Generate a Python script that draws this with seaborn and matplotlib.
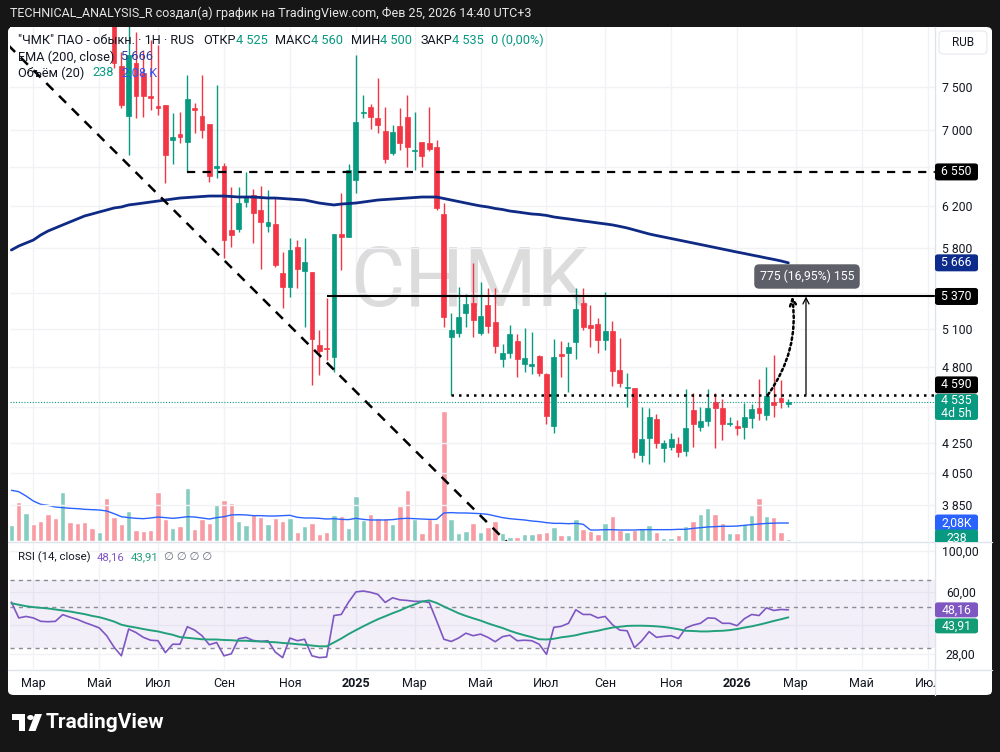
import numpy as np
import pandas as pd
import matplotlib
matplotlib.use("Agg")
import matplotlib.pyplot as plt
import seaborn as sns
from matplotlib.patches import Rectangle, FancyBboxPatch, Circle, Polygon
from matplotlib.ticker import FixedLocator, NullLocator, NullFormatter
from matplotlib.lines import Line2D

sns.set_theme(style="white")
plt.rcParams['font.family'] = ['Roboto', 'DejaVu Sans']

# weekly bars (1Н), 12.02.2024 .. 23.02.2026
dates = pd.date_range("2024-02-12", periods=107, freq="7D")

opens = [10050, 10300, 9950, 10200, 9850, 9600, 9300, 9100, 9550, 9250, 9050, 8900, 8750, 8850,
         8550, 7760, 7160, 7790, 7670, 7395, 7275, 7290, 6890, 6960, 6870, 7255, 7160, 7070, 6590, 6610,
         5970, 5980, 6245, 6315, 6165, 6010, 6030, 5575, 5450, 5810, 5595, 5585, 4970, 4945, 4875, 5930,
         5905, 6465, 7195, 7265, 7140, 6990, 6750, 7050, 7150, 6770, 6870, 6860, 6815, 6125, 5035, 5065,
         5230, 5315, 5065, 5300, 5155, 4860, 4905, 5000, 4820, 4805, 4885, 4745, 4370, 4900, 4905, 4995,
         5315, 5130, 5140, 5010, 5080, 4775, 4640, 4640, 4170, 4285, 4415, 4220, 4225, 4245, 4195, 4480,
         4360, 4405, 4540, 4495, 4380, 4370, 4360, 4425, 4495, 4445, 4540, 4570, 4525]
highs = [10400, 10450, 10350, 10250, 9950, 9700, 9400, 9700, 9600, 9350, 9150, 8950, 8950, 8900,
         8600, 7930, 8350, 8190, 7955, 8085, 8020, 7290, 7195, 7205, 7645, 7310, 7645, 7070, 7525, 6645,
         6395, 6395, 6550, 6375, 6405, 6365, 6285, 5765, 5895, 5875, 5895, 5585, 5090, 5355, 5930, 6335,
         6635, 7895, 7405, 7300, 7610, 7265, 7060, 7255, 7405, 7205, 6870, 7265, 6890, 6235, 5230, 5450,
         5390, 5665, 5495, 5445, 5445, 4980, 5130, 5060, 5105, 5075, 4890, 4755, 5020, 5000, 4995, 5445,
         5445, 5300, 5190, 5410, 5165, 5025, 4755, 4640, 4500, 4495, 4450, 4270, 4320, 4290, 4635, 4605,
         4500, 4635, 4605, 4560, 4430, 4410, 4530, 4525, 4710, 4800, 4890, 4700, 4560]
lows = [9900, 9850, 9800, 9750, 9500, 9200, 9000, 9050, 9150, 8950, 8800, 8650, 8700, 8450,
        7730, 7255, 6730, 7140, 7150, 7230, 7175, 6435, 6635, 6860, 6550, 6970, 6915, 6445, 6485, 5710,
        5810, 5950, 6195, 5850, 5610, 5950, 5630, 5275, 5365, 5445, 5115, 4665, 4740, 4855, 4760, 5600,
        5905, 6335, 7140, 7015, 6970, 6645, 6730, 6785, 6600, 6570, 6600, 6770, 6165, 5115, 4590, 5035,
        5115, 5035, 5050, 5065, 4905, 4800, 4870, 4725, 4760, 4745, 4730, 4380, 4320, 4725, 4610, 4860,
        5090, 4955, 4905, 4930, 4655, 4650, 4500, 4150, 4125, 4110, 4220, 4125, 4205, 4160, 4165, 4225,
        4335, 4370, 4220, 4270, 4370, 4305, 4280, 4355, 4410, 4410, 4430, 4495, 4500]
closes = [10300, 9950, 10200, 9850, 9600, 9300, 9100, 9550, 9250, 9050, 8900, 8750, 8850, 8550,
          7790, 7290, 7895, 7395, 7395, 7370, 7255, 6730, 6925, 6925, 7360, 7230, 7005, 6505, 6610, 5875,
          5925, 6235, 6295, 6135, 6050, 6050, 5645, 5450, 5785, 5610, 5675, 5020, 4925, 4940, 5930, 5905,
          6570, 7095, 7205, 7150, 7060, 6685, 6980, 6860, 6815, 6785, 6720, 6795, 6185, 5195, 5090, 5195,
          5305, 5175, 5205, 5125, 4960, 4905, 5060, 4860, 4870, 4820, 4755, 4435, 4875, 4885, 4955, 5265,
          5115, 5105, 5010, 5080, 4770, 4680, 4650, 4190, 4280, 4430, 4250, 4250, 4280, 4190, 4355, 4380,
          4405, 4495, 4495, 4380, 4390, 4355, 4430, 4490, 4460, 4580, 4515, 4540, 4535]

# volume, thousands of lots, and its 20-bar average
volume_k = [1.82, 4.51, 3.24, 1.97, 2.31, 3.12, 2.66, 5.66, 2.20, 2.08,
            2.20, 1.50, 1.04, 4.97, 2.77, 1.97, 3.47, 1.27, 1.16, 1.27,
            5.66, 2.54, 1.50, 1.73, 6.13, 1.39, 2.54, 2.08, 4.28, 4.74,
            4.39, 2.31, 1.85, 3.12, 2.77, 1.97, 2.66, 2.31, 2.66, 1.04,
            1.73, 2.08, 0.81, 1.04, 3.01, 2.89, 1.50, 5.20, 2.43, 3.12,
            2.66, 2.66, 1.97, 4.05, 5.90, 2.54, 0.92, 2.54, 2.08, 15.03,
            2.54, 0.92, 1.16, 2.08, 1.04, 1.62, 2.31, 0.92, 0.46, 0.46,
            0.81, 0.81, 0.92, 1.04, 1.62, 0.69, 0.69, 2.54, 1.39, 1.16,
            0.81, 2.08, 2.89, 1.27, 1.04, 1.27, 1.50, 1.85, 1.04, 0.35,
            0.35, 0.69, 1.73, 2.31, 3.12, 3.82, 3.12, 2.08, 0.92, 0.92,
            1.97, 3.01, 4.97, 2.89, 2.77, 1.04, 0.238]
vol_ma_k = [5.86, 5.70, 5.20, 4.62, 4.24, 4.12, 3.93, 3.85, 3.78, 3.74,
            3.66, 3.62, 3.58, 3.47, 3.16, 2.81, 2.70, 2.62, 2.58, 2.66,
            2.77, 2.70, 2.62, 2.70, 2.81, 2.77, 2.66, 2.54, 2.70, 2.81,
            3.01, 3.04, 3.01, 2.93, 2.93, 2.89, 2.89, 2.93, 2.97, 2.74,
            2.66, 2.66, 2.62, 2.54, 2.58, 2.50, 2.47, 2.62, 2.50, 2.43,
            2.43, 2.43, 2.47, 2.58, 2.62, 2.58, 2.54, 2.50, 2.50, 3.24,
            3.28, 3.24, 3.24, 3.20, 3.16, 3.08, 2.89, 2.70, 2.58, 2.50,
            2.43, 2.31, 2.24, 2.12, 2.04, 2.04, 2.00, 2.04, 1.93, 1.27,
            1.27, 1.31, 1.31, 1.27, 1.27, 1.27, 1.31, 1.31, 1.31, 1.31,
            1.31, 1.35, 1.35, 1.46, 1.54, 1.62, 1.66, 1.70, 1.70, 1.73,
            1.81, 1.89, 1.97, 2.03, 2.06, 2.08, 2.08]

ema200 = [5783, 5820, 5848, 5876, 5923, 5961, 5990, 6019, 6048, 6077,
          6106, 6125, 6145, 6164, 6184, 6194, 6214, 6223, 6233, 6243,
          6253, 6263, 6273, 6283, 6288, 6293, 6298, 6303, 6303, 6303,
          6298, 6293, 6293, 6293, 6288, 6283, 6283, 6278, 6273, 6268,
          6263, 6248, 6233, 6223, 6214, 6223, 6228, 6233, 6243, 6253,
          6263, 6268, 6273, 6278, 6283, 6288, 6293, 6293, 6293, 6278,
          6263, 6248, 6233, 6218, 6204, 6194, 6179, 6169, 6154, 6145,
          6135, 6125, 6120, 6111, 6096, 6086, 6077, 6067, 6057, 6048,
          6038, 6029, 6019, 6005, 5990, 5971, 5952, 5933, 5918, 5904,
          5890, 5876, 5862, 5848, 5834, 5820, 5806, 5792, 5778, 5764,
          5751, 5737, 5724, 5710, 5697, 5683, 5666]

rsi = [53.0, 43.6, 44.4, 43.6, 41.8, 41.6, 41.8, 45.4, 44.0, 42.8,
       41.2, 39.9, 38.5, 35.0, 30.4, 27.3, 38.0, 36.4, 34.3, 33.1,
       32.9, 28.4, 31.5, 31.5, 39.1, 37.5, 35.0, 31.3, 32.2, 27.3,
       28.0, 33.7, 34.3, 33.0, 32.6, 32.9, 28.6, 26.7, 34.0, 32.9,
       33.5, 27.3, 26.7, 26.9, 44.9, 45.5, 53.0, 60.1, 60.8, 59.8,
       58.3, 52.8, 55.9, 54.5, 54.1, 53.5, 53.5, 52.8, 42.2, 33.5,
       32.6, 34.0, 36.1, 35.0, 35.7, 34.3, 32.5, 34.6, 35.2, 32.9,
       33.1, 32.9, 31.5, 27.8, 38.8, 39.3, 40.8, 48.2, 45.5, 45.5,
       43.6, 44.4, 40.1, 37.5, 37.2, 30.2, 32.9, 36.8, 34.3, 34.7,
       35.0, 33.8, 38.5, 39.9, 40.8, 43.6, 43.4, 40.8, 40.8, 39.6,
       43.2, 45.5, 44.9, 49.4, 47.8, 48.4, 48.16]
rsi_ma = [52.3, 51.3, 50.4, 49.8, 49.4, 49.0, 48.4, 47.8, 47.2, 46.4,
          45.7, 44.7, 44.0, 42.9, 41.7, 40.1, 39.3, 38.7, 38.0, 37.4,
          36.9, 36.1, 35.4, 34.4, 34.1, 33.8, 33.5, 33.4, 33.4, 33.2,
          33.1, 32.9, 32.9, 32.7, 32.6, 32.4, 32.3, 32.0, 31.8, 31.5,
          31.3, 31.0, 30.7, 30.7, 32.2, 33.8, 35.7, 37.5, 39.3, 41.1,
          42.9, 44.5, 46.2, 47.8, 49.8, 51.5, 53.4, 54.1, 52.5, 50.2,
          48.2, 46.2, 44.7, 43.4, 42.2, 40.8, 39.6, 38.5, 37.2, 36.1,
          35.2, 34.4, 33.5, 33.4, 33.7, 34.3, 34.7, 35.2, 36.0, 36.6,
          37.2, 38.0, 38.7, 39.1, 39.5, 39.6, 39.6, 39.5, 39.3, 39.0,
          38.5, 37.9, 37.2, 37.1, 36.9, 36.9, 37.1, 37.2, 37.5, 38.0,
          38.7, 39.3, 40.1, 41.0, 42.0, 42.9, 43.91]

# drawings
level_resist = 6550      # dashed, from bar 24
level_target = 5370      # solid, from bar 43
level_base = 4590        # dotted, from bar 60
last_price = 4535
move_from = 4595
move_text = "775 (16,95%) 155"
trend_pts = [(-0.46, 8020), (68.0, 3613)]

price_ticks = [3850, 4050, 4250, 4500, 4800, 5100, 5400, 5800, 6200, 6600, 7000, 7500]
price_labels = ["3 850", "4 050", "4 250", "", "4 800", "5 100", "", "5 800", "6 200", "", "7 000", "7 500"]
rsi_ticks = [100, 60, 28]
rsi_labels = ["100,00", "60,00", "28,00"]
ru_months = ["Янв", "Фев", "Мар", "Апр", "Май", "Июн", "Июл", "Авг", "Сен", "Окт", "Ноя", "Дек"]

GREEN, RED = "#089981", "#f23645"
VOL_UP, VOL_DN = "#86cdc1", "#f89ba3"
EMA_C = "#0e2a84"
PURPLE = "#7e57c2"
RSI_MA_C = "#22a07c"
GRID = "#f0f2f6"
INK = "#131722"

W, H = 1000, 752
def fx(px):
    return px / W
def fy(py):
    return 1 - py / H

fig = plt.figure(figsize=(W / 100, H / 100), dpi=100, facecolor="#161616")
fig.add_artist(FancyBboxPatch((fx(8), fy(695)), fx(992) - fx(8), fy(27) - fy(695),
                              boxstyle="round,pad=0,rounding_size=0.006", transform=fig.transFigure,
                              fc="white", ec="none", zorder=-5))

main_rect = [fx(10), fy(541), fx(935) - fx(10), fy(27) - fy(541)]
ax_vol = fig.add_axes(main_rect)
ax = fig.add_axes(main_rect, sharex=ax_vol)
ax_rsi = fig.add_axes([fx(10), fy(669), fx(935) - fx(10), fy(543) - fy(669)], sharex=ax_vol)
for a in (ax_vol, ax, ax_rsi):
    for s in a.spines.values():
        s.set_visible(False)
    a.set_facecolor("white")
ax.patch.set_visible(False)

x = np.arange(len(dates))
o, hi, lo, c = map(np.array, (opens, highs, lows, closes))
up = c >= o
cc = np.where(up, GREEN, RED)
vc = np.where(up, VOL_UP, VOL_DN)

# month grid / ticks
all_dates = pd.date_range(dates[0], periods=130, freq="7D")
month_pos, month_lab = [], []
for i in range(1, len(all_dates)):
    d, p = all_dates[i], all_dates[i - 1]
    if d.month != p.month and d.month % 2 == 1:
        month_pos.append(i)
        month_lab.append(str(d.year) if d.month == 1 else ru_months[d.month - 1])

for pos in month_pos:
    ax_vol.axvline(pos, color=GRID, lw=1, zorder=0)
    ax_rsi.axvline(pos, color=GRID, lw=1, zorder=0)

# watermark
ax_vol.text(fx(470), fy(283), "CHMK", transform=fig.transFigure, fontsize=60,
            color="#dcdcdc", ha="center", va="center", zorder=1)

# volume
ax_vol.bar(x, volume_k, width=0.74, color=vc, zorder=2)
sns.lineplot(x=x, y=vol_ma_k, ax=ax_vol, color="#2962ff", linewidth=1, zorder=3)
ax_vol.set_ylim(0, 59.4)

# price
ax.set_yscale("log")
ax.set_ylim(3636, 8253)
for v in price_ticks:
    ax.axhline(v, color=GRID, lw=1, zorder=1)
ax.vlines(x, lo, hi, colors=cc, lw=1, zorder=3)
ax.bar(x, np.abs(c - o), bottom=np.minimum(o, c), width=0.66, color=cc,
       edgecolor=cc, linewidth=0.5, zorder=4)
sns.lineplot(x=x, y=ema200, ax=ax, color=EMA_C, linewidth=2, zorder=5)

xmax = 126.0
ax.axhline(last_price, color=GREEN, lw=0.8, ls=(0, (1, 1.5)), zorder=2)
ax.hlines(level_resist, 24, xmax, colors="black", lw=1.6, linestyles=[(0, (3.7, 3.3))], zorder=6)
ax.hlines(level_target, 43, xmax, colors="black", lw=1.5, zorder=6)
ax.hlines(level_base, 60, xmax, colors="black", lw=1.8, linestyles=[(0, (1, 2))], zorder=6)
ax.plot([trend_pts[0][0], trend_pts[1][0]], [trend_pts[0][1], trend_pts[1][1]],
        color="black", lw=1.8, ls=(0, (4, 3.2)), zorder=6)
ax.annotate("", xy=(108.4, level_target), xytext=(108.4, move_from),
            arrowprops=dict(arrowstyle="->", lw=0.9, color="black", shrinkA=0, shrinkB=0,
                            mutation_scale=11), zorder=7)
ax.annotate("", xy=(106.5, level_target), xytext=(103.2, level_base),
            arrowprops=dict(arrowstyle="->", lw=1.8, color="black", ls=(0, (1, 1.2)),
                            connectionstyle="arc3,rad=0.2", shrinkA=0, shrinkB=0,
                            mutation_scale=12), zorder=7)

# rsi
ax_rsi.set_yscale("log")
ax_rsi.set_ylim(23.2, 110)
ax_rsi.axhspan(30, 70, color=PURPLE, alpha=0.09, lw=0, zorder=1)
for v in (100, 60, 40, 28):
    ax_rsi.axhline(v, color=GRID, lw=1, zorder=0)
for v in (70, 50, 30):
    ax_rsi.axhline(v, color="#8a8d96", lw=1, ls=(0, (3, 3)), zorder=2)
sns.lineplot(x=x, y=rsi, ax=ax_rsi, color=PURPLE, linewidth=1.2, zorder=4)
sns.lineplot(x=x, y=rsi_ma, ax=ax_rsi, color=RSI_MA_C, linewidth=1.4, zorder=5)

ax_vol.set_xlim(-0.19, xmax)

# ticks
for a in (ax_vol, ax, ax_rsi):
    a.set_xlabel("")
    a.set_ylabel("")
ax_vol.set_yticks([])
ax_vol.tick_params(bottom=False, labelbottom=False, left=False, labelleft=False)
ax.tick_params(bottom=False, labelbottom=False)
ax.yaxis.tick_right()
ax.yaxis.set_major_locator(FixedLocator(price_ticks))
ax.yaxis.set_minor_locator(NullLocator())
ax.yaxis.set_minor_formatter(NullFormatter())
ax.set_yticklabels(price_labels)
ax.tick_params(axis="y", length=0, pad=15.8, labelsize=8.8, labelcolor=INK)
for t in ax.get_yticklabels():
    t.set_horizontalalignment("center")

ax_rsi.yaxis.tick_right()
ax_rsi.yaxis.set_major_locator(FixedLocator(rsi_ticks))
ax_rsi.yaxis.set_minor_locator(NullLocator())
ax_rsi.yaxis.set_minor_formatter(NullFormatter())
ax_rsi.set_yticklabels(rsi_labels)
ax_rsi.tick_params(axis="y", length=0, pad=18.5, labelsize=8.8, labelcolor=INK)
for t in ax_rsi.get_yticklabels():
    t.set_horizontalalignment("center")
ax_rsi.set_xticks(month_pos)
ax_rsi.set_xticklabels(month_lab)
ax_rsi.tick_params(axis="x", length=0, pad=6, labelsize=9, labelcolor=INK, bottom=True, labelbottom=True)
for t in ax_rsi.get_xticklabels():
    if t.get_text().isdigit():
        t.set_fontweight("bold")

# frame lines
def fline(xs, ys, col="#e0e3eb", lw=1, z=3):
    fig.add_artist(Line2D([fx(v) for v in xs], [fy(v) for v in ys], color=col, lw=lw,
                          transform=fig.transFigure, zorder=z))

fig.add_artist(Rectangle((fx(936), fy(694)), fx(991) - fx(936), fy(670) - fy(694),
                         transform=fig.transFigure, fc="white", ec="none", zorder=3))
fline([8, 992], [542, 542])
fline([935, 935], [27, 695])
fline([8, 992], [669.5, 669.5])

# right-axis tags
def ypx(a, v):
    return H - a.transData.transform((0, v))[1]

def tag(yc, lines, fc, tc="white", h=17, x0=935, x1=978, clip_at=None):
    box = FancyBboxPatch((fx(x0), fy(yc + h / 2)), fx(x1) - fx(x0), h / H,
                         boxstyle="round,pad=0,rounding_size=0.003", transform=fig.transFigure,
                         fc=fc, ec="none", zorder=6)
    fig.add_artist(box)
    step = h / len(lines)
    for k, s in enumerate(lines):
        t = fig.text(fx((x0 + x1) / 2), fy(yc - h / 2 + step * (k + 0.5)), s, color=tc,
                     fontsize=8.8, ha="center", va="center", zorder=7)
        if clip_at is not None:
            clip = Rectangle((fx(x0), fy(clip_at)), fx(x1) - fx(x0), fy(yc - h) - fy(clip_at),
                             transform=fig.transFigure)
            t.set_clip_path(clip)
            box.set_clip_path(clip)

def fmt(v):
    return f"{v:,.0f}".replace(",", " ")

tag(ypx(ax, level_resist), [fmt(level_resist)], "#000000")
tag(ypx(ax, ema200[-1]), [fmt(ema200[-1])], "#0d2c8c")
tag(ypx(ax, level_target), [fmt(level_target)], "#000000")
tag(ypx(ax, level_base) - 10, [fmt(level_base)], "#000000")
tag(ypx(ax, last_price) + 4.5, [fmt(last_price), "4d 5h"], GREEN, h=26)
tag(523, [f"{vol_ma_k[-1]:.2f}".replace(".", ",") + "K"], "#2962ff")
tag(538, [f"{volume_k[-1] * 1000:.0f}"], GREEN, clip_at=542)
r_y = ypx(ax_rsi, rsi[-1])
tag(r_y, [f"{rsi[-1]:.2f}".replace(".", ",")], PURPLE, h=15)
tag(r_y + 16, [f"{rsi_ma[-1]:.2f}".replace(".", ",")], "#129c76", h=15)

# RUB box
fig.add_artist(FancyBboxPatch((fx(939), fy(54)), fx(987) - fx(939), 23 / H,
                              boxstyle="round,pad=0,rounding_size=0.005", transform=fig.transFigure,
                              fc="white", ec="#e6e8ee", lw=0.8, zorder=6))
fig.text(fx(963), fy(42.5), "RUB", fontsize=8.5, color=INK, ha="center", va="center", zorder=7)

# measure label
fig.text(fx(807), fy(276.5), move_text, color="white", fontsize=8.8, ha="center", va="center",
         zorder=8, bbox=dict(boxstyle="round,pad=0.45,rounding_size=0.4", fc="#5d6068", ec="none"))

# legends
renderer = fig.canvas.get_renderer()
def rich(x0, y0, parts, size=9.2):
    xx = x0
    for txt, col, gap in parts:
        t = fig.text(fx(xx), fy(y0), txt, color=col, fontsize=size, ha="left", va="center", zorder=8)
        xx += t.get_window_extent(renderer).width + gap

rich(18, 40, [('"ЧМК" ПАО - обыкн. · 1Н · RUS', INK, 9), ("ОТКР", INK, 0), (fmt(opens[-1]), GREEN, 8),
              ("МАКС", INK, 0), (fmt(highs[-1]), GREEN, 8), ("МИН", INK, 0), (fmt(lows[-1]), GREEN, 8),
              ("ЗАКР", INK, 0), (fmt(closes[-1]), GREEN, 7), ("0 (0,00%)", GREEN, 0)])
rich(18, 57, [("EMA (200, close)", INK, 7), (fmt(ema200[-1]), "#2a3ca0", 0)])
rich(18, 73, [("Объём (20)", INK, 8), (f"{volume_k[-1] * 1000:.0f}", GREEN, 8),
              (f"{vol_ma_k[-1]:.2f}".replace(".", ",") + " K", "#3454f0", 0)])
rich(18, 557, [("RSI (14, close)", INK, 6), (f"{rsi[-1]:.2f}".replace(".", ","), PURPLE, 6),
               (f"{rsi_ma[-1]:.2f}".replace(".", ","), RSI_MA_C, 6), ("∅ ∅ ∅ ∅", "#6a6d78", 0)], size=8.2)

# header and footer
fig.text(fx(10), fy(13), "TECHNICAL_ANALYSIS_R создал(а) график на TradingView.com, Фев 25, 2026 14:40 UTC+3",
         color="#e6e6e6", fontsize=9, ha="left", va="center")
for patch in (Rectangle((fx(12), fy(720)), fx(25) - fx(12), 6 / H),
              Rectangle((fx(19), fy(731)), fx(25) - fx(19), 17 / H),
              Circle((fx(30.5), fy(717.5)), 3.3 / W),
              Polygon([(fx(35), fy(714)), (fx(42), fy(714)), (fx(35.5), fy(731)), (fx(28.5), fy(731))])):
    patch.set_transform(fig.transFigure)
    patch.set_facecolor("white")
    patch.set_edgecolor("none")
    fig.add_artist(patch)
fig.text(fx(46), fy(722), "TradingView", color="white", fontsize=15, fontweight="bold",
         ha="left", va="center")

fig.savefig("out.png", dpi=100, facecolor=fig.get_facecolor())
